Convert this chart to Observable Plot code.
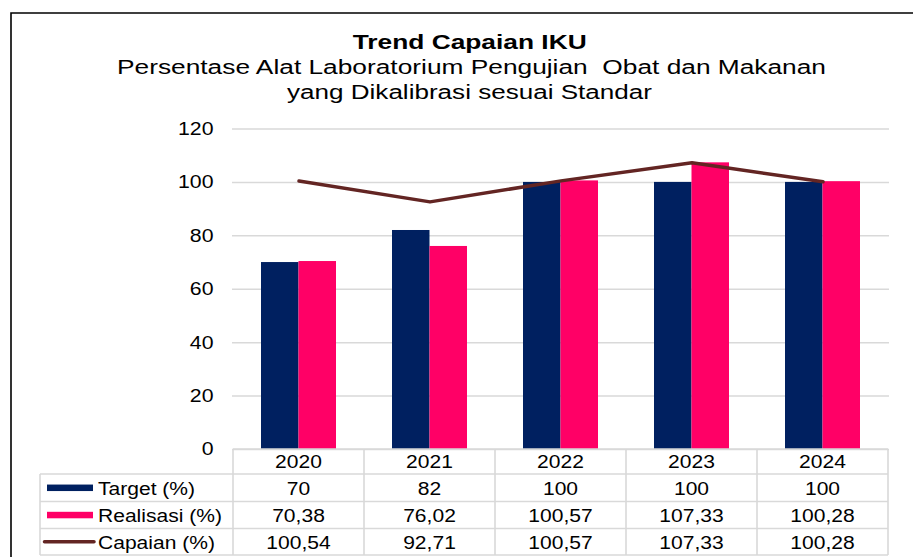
<!DOCTYPE html>
<html><head><meta charset="utf-8">
<script src="https://cdn.jsdelivr.net/npm/d3@7"></script>
<script src="https://cdn.jsdelivr.net/npm/@observablehq/plot@0.6"></script>
<style>
html,body{margin:0;padding:0;background:#fff;}
#wrap{position:relative;width:913px;height:557px;overflow:hidden;font-family:"Liberation Sans",Arial,sans-serif;}
#chart{position:absolute;left:0;top:0;}
#over{position:absolute;left:0;top:0;}
</style></head><body>
<div id="wrap"><div id="chart"></div><svg id="over" width="913" height="557"></svg></div>
<script>
const years = ["2020","2021","2022","2023","2024"];
const target = [70, 82, 100, 100, 100];
const realisasi = [70.38, 76.02, 100.57, 107.33, 100.28];
const capaian = [100.54, 92.71, 100.57, 107.33, 100.28];
const yTicks = [0, 20, 40, 60, 80, 100, 120];
const seriesNames = ["Target (%)", "Realisasi (%)", "Capaian (%)"];
const titleText = "Trend Capaian IKU";
const subtitleLines = ["Persentase Alat Laboratorium Pengujian  Obat dan Makanan", "yang Dikalibrasi sesuai Standar"];

const colors = {target: "#002060", realisasi: "#FF0066", capaian: "#632523"};
const fmt = v => String(v).replace(".", ",");
const data = years.map((year, i) => ({year, target: target[i], realisasi: realisasi[i], capaian: capaian[i]}));

const W = 913, plotLeft = 232, plotRight = 889, plotTop = 128.5, zeroY = 449, H = 460;
const pInner = 0.4292, pOuter = pInner / 2;
const bandW = (plotRight - plotLeft) / years.length * (1 - pInner);
const FONT = '"Liberation Sans", Arial, sans-serif';

const plot = Plot.plot({
  width: W, height: H,
  marginLeft: plotLeft, marginRight: W - plotRight, marginTop: plotTop, marginBottom: H - zeroY,
  style: {fontFamily: FONT, fontSize: "18.5px", color: "#000", background: "transparent", overflow: "visible"},
  x: {type: "band", domain: years, paddingInner: pInner, paddingOuter: pOuter, axis: null},
  y: {domain: [0, 120], ticks: yTicks, tickSize: 0, tickPadding: 19, label: null},
  marks: [
    Plot.ruleY(yTicks, {stroke: "#d9d9d9", strokeWidth: 1.5}),
    Plot.barY(data, {x: "year", y: "target", fill: colors.target, insetRight: bandW / 2}),
    Plot.barY(data, {x: "year", y: "realisasi", fill: colors.realisasi, insetLeft: bandW / 2}),
    Plot.lineY(data, {x: "year", y: "capaian", stroke: colors.capaian, strokeWidth: 3.5, strokeLinecap: "round", strokeLinejoin: "round"})
  ]
});
document.getElementById("chart").append(plot);

// widen tick labels horizontally like the reference
const K = 1.15;
plot.querySelectorAll('[aria-label^="y-axis"] text').forEach(t => {
  const b = t.getBBox(); const rx = b.x + b.width;
  const tr = t.getAttribute("transform") || "";
  t.setAttribute("transform", `${tr} translate(${rx},0) scale(${K},1) translate(${-rx},0)`);
});

// overlay: frame, titles, data table
const svg = d3.select("#over").style("font-family", FONT);
svg.append("path").attr("d", "M11,557V13H913").attr("fill", "none").attr("stroke", "#000").attr("stroke-width", 1.6);

svg.append("text").attr("x", 469.7).attr("y", 49).attr("text-anchor", "middle")
  .attr("font-weight", "bold").attr("font-size", 19.5).attr("textLength", 234).attr("lengthAdjust", "spacingAndGlyphs")
  .text(titleText);
[[74, 471.5, 709], [99, 469.5, 365]].forEach(([y, x, len], i) => {
  svg.append("text").attr("x", x).attr("y", y).attr("text-anchor", "middle").style("white-space", "pre")
    .attr("font-size", 20).attr("textLength", len).attr("lengthAdjust", "spacingAndGlyphs")
    .text(subtitleLines[i]);
});

const xs = plot.scale("x");
const step = xs.step ?? (plotRight - plotLeft) / years.length;
const bw = xs.bandwidth ?? bandW;
const cx = y => xs.apply(y) + bw / 2;
const bounds = [cx(years[0]) - step / 2, ...years.map(y => cx(y) + step / 2)];
const tableLeft = 40;
const rowsY = [449, 474, 501.5, 528.5, 555];
const grid = svg.append("g").attr("stroke", "#d9d9d9").attr("stroke-width", 1.6);
grid.append("line").attr("x1", bounds[0]).attr("x2", bounds[bounds.length - 1]).attr("y1", rowsY[0]).attr("y2", rowsY[0]);
rowsY.slice(1).forEach(y => grid.append("line").attr("x1", tableLeft).attr("x2", bounds[bounds.length - 1]).attr("y1", y).attr("y2", y));
grid.append("line").attr("x1", tableLeft).attr("x2", tableLeft).attr("y1", rowsY[1]).attr("y2", rowsY[4]);
bounds.forEach(x => grid.append("line").attr("x1", x).attr("x2", x).attr("y1", rowsY[0]).attr("y2", rowsY[4]));

const cellText = (x, y, s, anchor) => svg.append("text")
  .attr("transform", `translate(${x},${y}) scale(${K},1)`)
  .attr("text-anchor", anchor).attr("font-size", 18.3).attr("fill", "#000").text(s);

const baselines = [467.5, 495, 522, 548.5];
years.forEach(y => cellText(cx(y), baselines[0], y, "middle"));
[target, realisasi, capaian].forEach((arr, r) => {
  arr.forEach((v, i) => cellText(cx(years[i]), baselines[r + 1], fmt(v), "middle"));
  cellText(98, baselines[r + 1], seriesNames[r], "start");
});
// legend keys
const rowMid = r => (rowsY[r + 1] + rowsY[r + 2]) / 2;
svg.append("rect").attr("x", 47).attr("width", 46).attr("y", rowMid(0) - 3.2).attr("height", 6.5).attr("fill", colors.target);
svg.append("rect").attr("x", 47).attr("width", 46).attr("y", rowMid(1) - 3.2).attr("height", 6.5).attr("fill", colors.realisasi);
svg.append("line").attr("x1", 44.5).attr("x2", 94).attr("y1", rowMid(2)).attr("y2", rowMid(2))
  .attr("stroke", colors.capaian).attr("stroke-width", 3.5).attr("stroke-linecap", "round");
</script>
</body></html>
